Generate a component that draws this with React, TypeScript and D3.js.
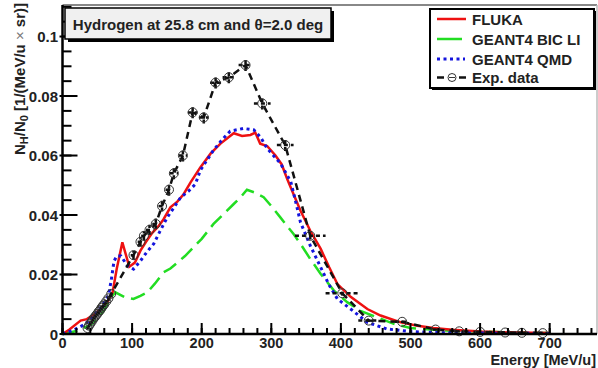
import React from 'react';
import * as d3 from 'd3';

const W = 598;
const H = 368;

// FLUKA
const flukaE = [0, 10, 26, 35, 45, 55, 65, 72, 78, 86, 96, 104, 112, 120, 129, 137, 145, 155, 165, 174, 184, 198, 213, 227, 246, 258, 270, 277, 284, 294, 306, 315, 323, 332, 342, 356, 371, 383, 395, 414, 438, 457, 486, 510, 533, 560, 600, 650, 700];
const flukaY = [0, 0.0015, 0.0045, 0.005, 0.0065, 0.0085, 0.011, 0.014, 0.022, 0.0308, 0.0226, 0.024, 0.028, 0.031, 0.034, 0.036, 0.0385, 0.0426, 0.0445, 0.047, 0.051, 0.056, 0.0607, 0.064, 0.0675, 0.0666, 0.0669, 0.0677, 0.064, 0.0632, 0.06, 0.057, 0.052, 0.047, 0.0414, 0.0347, 0.0286, 0.0225, 0.0168, 0.0125, 0.0084, 0.0062, 0.0039, 0.0028, 0.002, 0.0014, 0.0008, 0.0005, 0.0003];

// GEANT4 BIC LI
const bicE = [0, 20, 40, 50, 60, 68, 76, 90, 102, 112, 122, 133, 145, 155, 165, 176, 186, 200, 217, 230, 246, 256, 265, 277, 289, 300, 313, 322, 332, 342, 356, 371, 390, 409, 428, 452, 476, 500, 550, 600, 650, 700];
const bicY = [0, 0.001, 0.003, 0.005, 0.008, 0.012, 0.014, 0.0123, 0.0118, 0.0128, 0.014, 0.017, 0.0207, 0.022, 0.024, 0.0262, 0.0286, 0.032, 0.037, 0.04, 0.0437, 0.046, 0.0485, 0.0475, 0.046, 0.043, 0.0392, 0.0365, 0.0336, 0.0303, 0.0252, 0.0202, 0.0146, 0.0107, 0.0078, 0.0056, 0.0034, 0.002, 0.0012, 0.0008, 0.0005, 0.0003];

// GEANT4 QMD
const qmdE = [0, 15, 30, 40, 50, 60, 66, 70, 74, 78, 84, 93, 102, 112, 121, 131, 140, 150, 160, 170, 181, 191, 198, 217, 230, 241, 260, 275, 285, 294, 313, 328, 335, 342, 356, 371, 383, 395, 414, 438, 466, 500, 550, 600, 700];
const qmdY = [0, 0.0012, 0.003, 0.0048, 0.0075, 0.0105, 0.013, 0.018, 0.0245, 0.0262, 0.0262, 0.023, 0.0218, 0.0246, 0.0275, 0.0303, 0.0345, 0.039, 0.0425, 0.046, 0.048, 0.0504, 0.055, 0.0618, 0.0655, 0.0682, 0.0691, 0.0686, 0.066, 0.0624, 0.0574, 0.0512, 0.0445, 0.0375, 0.0297, 0.0224, 0.0165, 0.0118, 0.0084, 0.0039, 0.0017, 0.0008, 0.0004, 0.0003, 0.0002];

// Exp. data
const expE = [36, 38, 40, 42, 44, 46, 48, 50, 52, 54, 56, 58, 60, 63, 66, 70, 102, 112, 117, 125, 134, 143, 153, 160, 173, 187, 203, 220, 239, 263, 287, 320, 356, 402, 440, 488, 536, 570, 600, 636, 660, 690];
const expY = [0.002, 0.0028, 0.0035, 0.0042, 0.005, 0.0056, 0.0062, 0.0068, 0.0075, 0.008, 0.0088, 0.0094, 0.01, 0.011, 0.012, 0.0135, 0.0265, 0.031, 0.033, 0.035, 0.037, 0.043, 0.0485, 0.054, 0.06, 0.0745, 0.0728, 0.0845, 0.0863, 0.0904, 0.0775, 0.0635, 0.033, 0.0137, 0.0045, 0.0041, 0.0015, 0.0009, 0.0007, 0.0005, 0.0004, 0.0003];
const expXErr = [1, 1, 1, 1, 1, 1, 1, 1, 1, 1, 1, 1, 1, 1.5, 1.5, 2, 4, 4, 4, 5, 5, 5, 5, 6, 6, 7, 7, 8, 9, 10, 12, 12, 22, 24, 15, 10, 4, 5, 5, 6, 6, 6];
const expYErr = [0.0005, 0.0006, 0.0006, 0.0006, 0.0007, 0.0007, 0.0007, 0.0008, 0.0008, 0.0008, 0.0009, 0.0009, 0.001, 0.001, 0.001, 0.0012, 0.0015, 0.0016, 0.0016, 0.0017, 0.0018, 0.0018, 0.002, 0.002, 0.002, 0.002, 0.002, 0.002, 0.002, 0.002, 0.002, 0.002, 0.0012, 0.0008, 0.0004, 0.0004, 0.0002, 0.0001, 0.0001, 0.0001, 0.0001, 0.0001];

const yMajor = [0, 0.02, 0.04, 0.06, 0.08, 0.1];
const yMajorLabels = ['0', '0.02', '0.04', '0.06', '0.08', '0.1'];
const xMajor = [0, 100, 200, 300, 400, 500, 600, 700];

const FONT = '"Liberation Sans", Arial, Helvetica, sans-serif';

const left = 62.5;
const right = 597;
const top = 5;
const bottom = 334;

export default function App() {
  const x = d3.scaleLinear().domain([0, 770]).range([left, left + 770 * 0.696]);
  const y = d3.scaleLinear().domain([0, 0.1106]).range([bottom, top]);

  const line = (es: number[], ys: number[]) =>
    d3.line<number>().x((_, i) => x(es[i])).y((_, i) => y(ys[i]))(es) || '';

  const yMinor = d3.range(0, 0.1101, 0.005);
  const xMinor = d3.range(0, 770, 20);

  return (
    <svg width={W} height={H} style={{ position: 'absolute', left: 0, top: 0, background: '#fff' }} fontFamily={FONT}>
      <rect width={W} height={H} fill="#fff" />
      {/* frame */}
      <line x1={left} x2={right} y1={top} y2={top} stroke="#888" strokeWidth={2} />
      <line x1={right} x2={right} y1={top} y2={bottom} stroke="#bbb" strokeWidth={1.5} />

      {/* curves */}
      <path d={line(bicE, bicY)} fill="none" stroke="#22dd22" strokeWidth={2.5} strokeDasharray="15,7" />
      <path d={line(flukaE, flukaY)} fill="none" stroke="#ee1111" strokeWidth={2.5} />
      <path d={line(qmdE, qmdY)} fill="none" stroke="#1414dd" strokeWidth={3} strokeDasharray="3,3.5" />
      <path d={line(expE, expY)} fill="none" stroke="#111" strokeWidth={2.5} strokeDasharray="7,5" />

      {/* experimental points */}
      {expE.map((e, i) => (
        <g key={i}>
          <line x1={x(e - expXErr[i])} x2={x(e + expXErr[i])} y1={y(expY[i])} y2={y(expY[i])} stroke="#111" strokeWidth={2.5} strokeDasharray="4,3" />
          <line x1={x(e)} x2={x(e)} y1={y(expY[i] - expYErr[i])} y2={y(expY[i] + expYErr[i])} stroke="#111" strokeWidth={2.5} strokeDasharray="4,3" />
          <circle cx={x(e)} cy={y(expY[i])} r={4.5} fill="none" stroke="#333" strokeWidth={1} />
        </g>
      ))}

      {/* axes */}
      <line x1={left} x2={left} y1={top} y2={bottom + 1} stroke="#000" strokeWidth={2.5} />
      <line x1={left - 1} x2={right} y1={bottom} y2={bottom} stroke="#000" strokeWidth={2.5} />
      {yMinor.map((v, i) => (
        <line key={'ym' + i} x1={left} x2={left + 9} y1={y(v)} y2={y(v)} stroke="#000" strokeWidth={2} />
      ))}
      {yMajor.map((v, i) => (
        <g key={'yM' + i}>
          <line x1={left - 3} x2={left + 15} y1={y(v)} y2={y(v)} stroke="#000" strokeWidth={2} />
          <text x={58} y={y(v) + 5.5} textAnchor="end" fontSize={15} fontWeight="bold" fill="#222">{yMajorLabels[i]}</text>
        </g>
      ))}
      {xMinor.map((v, i) => (
        <line key={'xm' + i} x1={x(v)} x2={x(v)} y1={bottom} y2={bottom - 6} stroke="#000" strokeWidth={2} />
      ))}
      {xMajor.map((v, i) => (
        <g key={'xM' + i}>
          <line x1={x(v)} x2={x(v)} y1={bottom} y2={bottom - 11} stroke="#000" strokeWidth={2} />
          <text x={x(v)} y={348} textAnchor="middle" fontSize={14.5} fontWeight="bold" fill="#222">{v}</text>
        </g>
      ))}

      {/* axis titles */}
      <text x={596} y={365} textAnchor="end" fontSize={14.5} fontWeight="bold" fill="#222">Energy [MeV/u]</text>
      <text transform="translate(25,3) rotate(-90)" textAnchor="end" fontSize={15} fontWeight="bold" fill="#222">
        N<tspan fontSize={11} dy={3}>H</tspan><tspan dy={-3}>/N</tspan><tspan fontSize={11} dy={3}>0</tspan>
        <tspan dy={-3}> [1/(MeV/u </tspan><tspan fontWeight="normal" fill="#777">×</tspan><tspan> sr)]</tspan>
      </text>

      {/* title box */}
      <rect x={68} y={11} width={266} height={31} fill="#000" />
      <rect x={65} y={8} width={266} height={31} fill="#f0f0f0" stroke="#000" strokeWidth={1.5} />
      <text x={198} y={29.5} textAnchor="middle" fontSize={15} fontWeight="bold" fill="#222">Hydrogen at 25.8 cm and θ=2.0 deg</text>

      {/* legend */}
      <rect x={432} y={11} width={164} height={79} fill="#000" />
      <rect x={430} y={9} width={164} height={79} fill="#fff" stroke="#000" strokeWidth={2} />
      <line x1={437} x2={466} y1={19} y2={19} stroke="#ee1111" strokeWidth={2.5} />
      <text x={472} y={24.5} fontSize={15} fontWeight="bold" fill="#222">FLUKA</text>
      <line x1={437} x2={462} y1={39} y2={39} stroke="#22dd22" strokeWidth={2.5} />
      <text x={472} y={44.5} fontSize={15} fontWeight="bold" fill="#222">GEANT4 BIC LI</text>
      <line x1={437} x2={465} y1={59} y2={59} stroke="#1414dd" strokeWidth={3} strokeDasharray="3,3.5" />
      <text x={472} y={64.5} fontSize={15} fontWeight="bold" fill="#222">GEANT4 QMD</text>
      <line x1={437} x2={444} y1={77.5} y2={77.5} stroke="#111" strokeWidth={2.5} />
      <circle cx={452} cy={77.5} r={4} fill="none" stroke="#333" strokeWidth={1} />
      <line x1={449} x2={455} y1={77.5} y2={77.5} stroke="#333" strokeWidth={1} />
      <line x1={459} x2={466} y1={77.5} y2={77.5} stroke="#111" strokeWidth={2.5} />
      <text x={472} y={83} fontSize={15} fontWeight="bold" fill="#222">Exp. data</text>
    </svg>
  );
}
